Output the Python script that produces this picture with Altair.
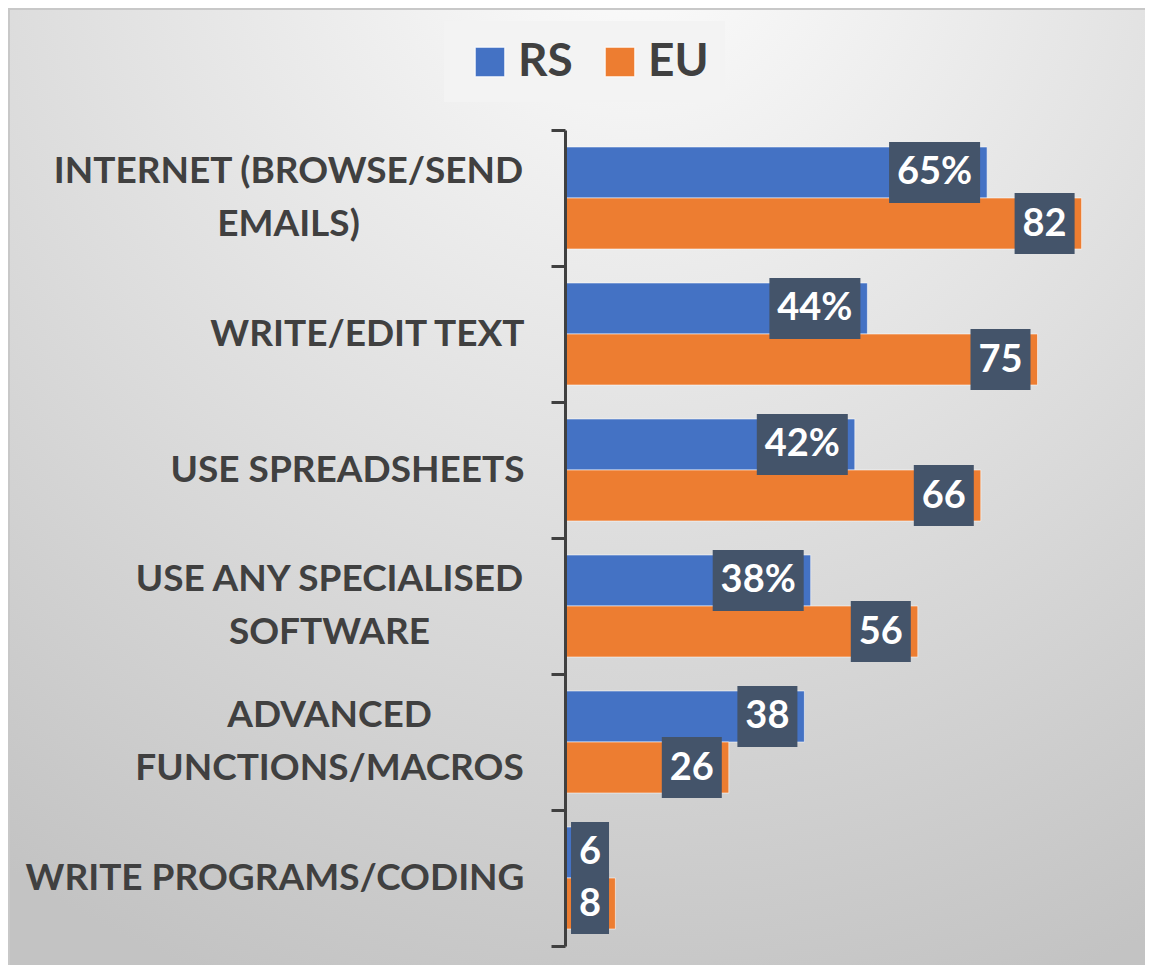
import altair as alt
import pandas as pd

categories = [
    "INTERNET (BROWSE/SEND EMAILS)",
    "WRITE/EDIT TEXT",
    "USE SPREADSHEETS",
    "USE ANY SPECIALISED SOFTWARE",
    "ADVANCED FUNCTIONS/MACROS",
    "WRITE PROGRAMS/CODING",
]
label_lines = {
    "INTERNET (BROWSE/SEND EMAILS)": ["INTERNET (BROWSE/SEND", "EMAILS)"],
    "USE ANY SPECIALISED SOFTWARE": ["USE ANY SPECIALISED", "SOFTWARE"],
    "ADVANCED FUNCTIONS/MACROS": ["ADVANCED", "FUNCTIONS/MACROS"],
}
# half of the rendered width of each wrapped label block (styling, for centring lines)
block_half_width = {
    "INTERNET (BROWSE/SEND EMAILS)": 236,
    "USE ANY SPECIALISED SOFTWARE": 195,
    "ADVANCED FUNCTIONS/MACROS": 195,
}
series = ["RS", "EU"]
rs_values = [67, 48, 46, 39, 38, 6]
eu_values = [82, 75, 66, 56, 26, 8]
rs_labels = ["65%", "44%", "42%", "38%", "38", "6"]
eu_labels = ["82", "75", "66", "56", "26", "8"]
colors = ["#4472C4", "#ED7D31"]

rows = []
for c, v, l in zip(categories, rs_values, rs_labels):
    rows.append({"category": c, "series": "RS", "value": v, "label": l})
for c, v, l in zip(categories, eu_values, eu_labels):
    rows.append({"category": c, "series": "EU", "value": v, "label": l})
df = pd.DataFrame(rows)

expr = "datum.label"
for k, lines in reversed(list(label_lines.items())):
    arr = "[" + ", ".join("'" + s + "'" for s in lines) + "]"
    expr = f"datum.label == '{k}' ? {arr} : ({expr})"
wrapped = "[" + ", ".join("'" + k + "'" for k in label_lines) + "]"
is_wrapped = f"indexof({wrapped}, datum.value) >= 0"

FONT = "Lato"
DARK = "#404040"
LINE = 53
PAD = 27

y_enc = alt.Y(
    "category:N",
    sort=categories,
    scale=alt.Scale(domain=categories, paddingInner=0, paddingOuter=0),
    axis=alt.Axis(
        title=None,
        labelExpr=expr,
        labelFont=FONT,
        labelFontWeight="bold",
        labelFontSize=37,
        labelColor=DARK,
        labelLineHeight=LINE,
        labelOffset={"condition": {"test": is_wrapped, "value": -LINE / 2}, "value": 0},
        labelPadding={
            "condition": [
                {"test": f"datum.value == '{k}'", "value": PAD + hw}
                for k, hw in block_half_width.items()
            ],
            "value": PAD,
        },
        labelAlign={"condition": {"test": is_wrapped, "value": "center"}, "value": "right"},
        labelBaseline="middle",
        labelLimit=600,
        domainColor=DARK,
        domainWidth=3,
        tickColor=DARK,
        tickWidth=3,
        tickSize=14,
        tickBand="extent",
        grid=False,
        zindex=1,
    ),
)
yoff_enc = alt.YOffset(
    "series:N",
    sort=series,
    scale=alt.Scale(domain=series, paddingInner=0, paddingOuter=0.333),
)
x_scale = alt.Scale(domain=[0, 90], nice=False, zero=True)

one = pd.DataFrame({"a": [0]})
bg = alt.Chart(one).mark_rect(
    fill={
        "gradient": "radial",
        "x1": 0.55, "y1": 0.0, "r1": 0.0,
        "x2": 0.55, "y2": 0.0, "r2": 1.0,
        "stops": [
            {"offset": 0.0, "color": "#fdfdfd"},
            {"offset": 0.5, "color": "#e0e0e0"},
            {"offset": 1.0, "color": "#c3c3c3"},
        ],
    },
    stroke="#c8c8c8",
    strokeWidth=2,
).encode(
    x=alt.value(-556), x2=alt.value(584), y=alt.value(-121), y2=alt.value(838)
)

legend_box = alt.Chart(one).mark_rect(fill="#f3f3f3").encode(
    x=alt.value(-121), x2=alt.value(160), y=alt.value(-109), y2=alt.value(-28)
)

bars = alt.Chart(df).mark_bar(stroke="white", strokeOpacity=0.55, strokeWidth=1).encode(
    x=alt.X("value:Q", scale=x_scale, axis=None),
    y=y_enc,
    yOffset=yoff_enc,
    color=alt.Color(
        "series:N",
        scale=alt.Scale(domain=series, range=colors),
        legend=alt.Legend(
            title=None,
            orient="none",
            legendX=-98,
            legendY=-91,
            direction="horizontal",
            symbolType="square",
            symbolSize=880,
            symbolStrokeColor="white",
            symbolStrokeWidth=1,
            labelFont=FONT,
            labelFontWeight="bold",
            labelFontSize=46,
            labelColor=DARK,
            labelOffset=5,
            columnPadding=24,
            padding=0,
        ),
    ),
)

widths = {1: 38, 2: 60, 3: 91}
label_layers = []
for n, w in widths.items():
    base = alt.Chart(df).transform_calculate(
        n="length(datum.label)", end="max(datum.value, 8.1)"
    ).transform_filter(f"datum.n == {n}")
    box = base.mark_bar(color="#44546A", height=61, xOffset=-(w + 7), x2Offset=-7).encode(
        x=alt.X("end:Q", scale=x_scale, axis=None),
        x2="end:Q",
        y=y_enc,
        yOffset=yoff_enc,
    )
    txt = base.mark_text(
        font=FONT, fontWeight="bold", fontSize=38, color="white",
        align="center", baseline="middle", xOffset=-(w / 2 + 7), dy=1,
    ).encode(
        x=alt.X("end:Q", scale=x_scale, axis=None),
        y=y_enc,
        yOffset=yoff_enc,
        text="label:N",
    )
    label_layers += [box, txt]

chart = alt.layer(bg, legend_box, bars, *label_layers).properties(
    width=567,
    height=816,
    padding={"left": 557, "top": 122, "right": 13, "bottom": 19},
    autosize=alt.AutoSizeParams(type="none"),
    background="white",
).configure_view(stroke=None)

chart.save("out.html", embed_options={"renderer": "svg", "actions": False})
